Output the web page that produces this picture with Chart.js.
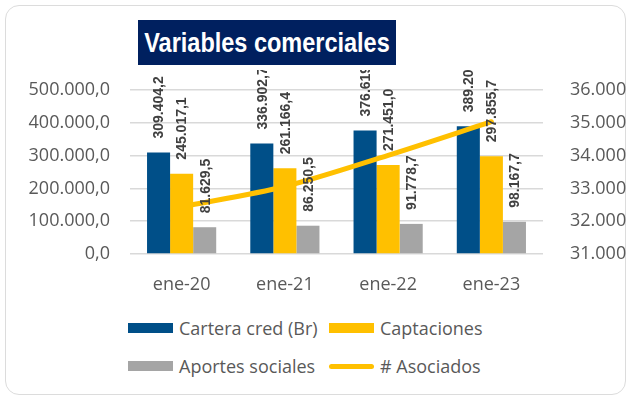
<!DOCTYPE html>
<html>
<head>
<meta charset="utf-8">
<script src="https://cdn.jsdelivr.net/npm/chart.js@4.4.1/dist/chart.umd.min.js"></script>
<style>
  body { margin: 0; background: #fff; font-family: "Open Sans", sans-serif; }
  #wrap { position: relative; width: 631px; height: 400px; overflow: hidden; }
  #frame { position: absolute; left: 5px; top: 5px; right: 5px; bottom: 5px;
           border: 1px solid #dcdcdc; border-radius: 14px; }
  #myChart { position: absolute; left: 0; top: 0; }
  #title { position: absolute; left: 138px; top: 20px; width: 258px; height: 45px;
           background: #00205f; overflow: hidden; }
  #title span { position: absolute; left: 50%; top: 0; color: #fff; font: bold 27px "Liberation Sans", sans-serif;
                line-height: 46px; white-space: nowrap; transform: translateX(-50%) scaleX(0.87); }
  .leg { position: absolute; display: flex; align-items: center; color: #595959; font-size: 18px; white-space: nowrap; }
  .sw { width: 45px; height: 10px; margin-right: 6px; }
  .ln { width: 45px; height: 5px; border-radius: 3px; margin-right: 6px; }
</style>
</head>
<body>
<div id="wrap">
  <div id="frame"></div>
  <canvas id="myChart" width="631" height="300"></canvas>
  <div id="title"><span>Variables comerciales</span></div>
  <div id="legend"></div>
</div>
<script>
// Data
var categories = ['ene-20', 'ene-21', 'ene-22', 'ene-23'];
var cartera = [309404.2, 336902.7, 376619.5, 389206.3];
var captaciones = [245017.1, 261166.4, 271451.0, 297855.7];
var aportes = [81629.5, 86250.5, 91778.7, 98167.7];
var asociados = [32442, 33058, 34006, 35033];

var seriesNames = ['Cartera cred (Br)', 'Captaciones', 'Aportes sociales', '# Asociados'];
var colors = ['#004f88', '#ffc000', '#a5a5a5', '#ffc000'];

// 1234567.8 -> "1.234.567,8"
function fmt(v, dec) {
    var s = v.toFixed(dec).split('.');
    var ip = s[0].replace(/\B(?=(\d{3})+(?!\d))/g, '.');
    return dec > 0 ? ip + ',' + s[1] : ip;
}

// rotated value labels above the bars (cut off near the top, as in the original)
var barLabels = {
    id: 'barLabels',
    afterDatasetsDraw: function(chart) {
        var ctx = chart.ctx;
        ctx.save();
        ctx.beginPath();
        ctx.rect(0, 70, chart.width, chart.height - 70);
        ctx.clip();
        ctx.font = 'bold 14px "Liberation Sans", sans-serif';
        ctx.fillStyle = '#404040';
        ctx.textAlign = 'left';
        ctx.textBaseline = 'middle';
        chart.data.datasets.forEach(function(ds, i) {
            if (ds.type === 'line') return;
            chart.getDatasetMeta(i).data.forEach(function(el, j) {
                ctx.save();
                ctx.translate(el.x + 1, el.y - 14);
                ctx.rotate(-Math.PI / 2);
                ctx.fillText(fmt(ds.data[j], 1), 0, 0);
                ctx.restore();
            });
        });
        ctx.restore();
    }
};

var ctx = document.getElementById('myChart').getContext('2d');
var myChart = new Chart(ctx, {
    type: 'bar',
    data: {
        labels: categories,
        datasets: [
            { type: 'line', label: seriesNames[3], data: asociados, yAxisID: 'y1',
              borderColor: colors[3], borderWidth: 5, pointRadius: 0, tension: 0.3,
              borderCapStyle: 'round', order: 0 },
            { label: seriesNames[0], data: cartera, backgroundColor: colors[0], yAxisID: 'y', order: 1 },
            { label: seriesNames[1], data: captaciones, backgroundColor: colors[1], yAxisID: 'y', order: 1 },
            { label: seriesNames[2], data: aportes, backgroundColor: colors[2], yAxisID: 'y', order: 1 }
        ]
    },
    options: {
        responsive: false,
        animation: false,
        layout: { padding: { top: 90, left: 0, right: 0, bottom: 0 } },
        datasets: { bar: { categoryPercentage: 0.67, barPercentage: 1.0 } },
        plugins: { legend: { display: false }, tooltip: { enabled: false } },
        scales: {
            x: {
                grid: { display: false },
                border: { display: false },
                ticks: { color: '#595959', font: { family: 'Open Sans', size: 18 }, padding: 12 },
                afterFit: function(s) { s.height = 46; }
            },
            y: {
                position: 'left', min: 0, max: 500000,
                grid: { color: '#d9d9d9', lineWidth: 1.5, drawTicks: false },
                border: { display: false },
                ticks: { stepSize: 100000, color: '#595959', padding: 20,
                         font: { family: 'Open Sans', size: 18 },
                         callback: function(v) { return fmt(v, 1); } },
                afterFit: function(s) { s.width = 130; }
            },
            y1: {
                position: 'right', min: 31000, max: 36000,
                grid: { display: false },
                border: { display: false },
                ticks: { stepSize: 1000, color: '#595959', padding: 19,
                         font: { family: 'Open Sans', size: 18 },
                         callback: function(v) { return fmt(v, 0); } },
                afterFit: function(s) { s.width = 88; }
            }
        }
    },
    plugins: [barLabels]
});

// legend in two rows, like the original
var legendPos = [[128, 316], [329, 316], [128, 354], [329, 354]];
var legend = document.getElementById('legend');
seriesNames.forEach(function(name, i) {
    var d = document.createElement('div');
    d.className = 'leg';
    d.style.left = legendPos[i][0] + 'px';
    d.style.top = legendPos[i][1] + 'px';
    var sw = document.createElement('span');
    sw.className = i === 3 ? 'ln' : 'sw';
    sw.style.background = colors[i];
    d.appendChild(sw);
    d.appendChild(document.createTextNode(name));
    legend.appendChild(d);
});
</script>
</body>
</html>
